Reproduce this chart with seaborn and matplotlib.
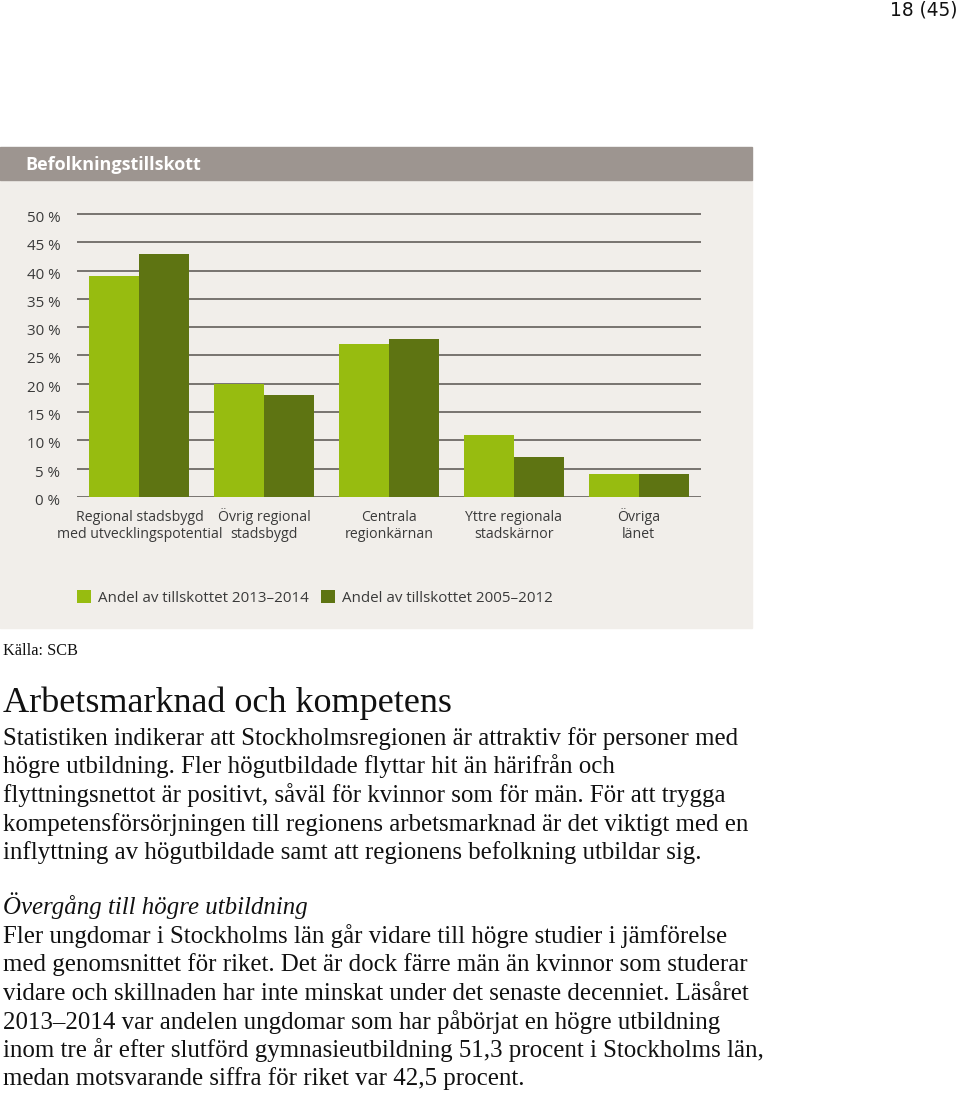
import matplotlib
matplotlib.use("Agg")
import matplotlib.pyplot as plt
import matplotlib.transforms as mtrans
import seaborn as sns
import pandas as pd
from matplotlib.patches import Rectangle, Patch

# ---------------- data ----------------
categories = ["Regional stadsbygd\nmed utvecklingspotential", "Övrig regional\nstadsbygd",
              "Centrala\nregionkärnan", "Yttre regionala\nstadskärnor", "Övriga\nlänet"]
series_names = ["Andel av tillskottet 2013–2014", "Andel av tillskottet 2005–2012"]
values_2013_2014 = [39, 20, 27, 11, 4]
values_2005_2012 = [43, 18, 28, 7, 4]
ytick_values = [0, 5, 10, 15, 20, 25, 30, 35, 40, 45, 50]
ytick_labels = [f"{v} %" for v in ytick_values]

chart_title = "Befolkningstillskott"
page_number = "18 (45)"
source = "Källa: SCB"
heading = "Arbetsmarknad och kompetens"
para1 = ["Statistiken indikerar att Stockholmsregionen är attraktiv för personer med",
         "högre utbildning. Fler högutbildade flyttar hit än härifrån och",
         "flyttningsnettot är positivt, såväl för kvinnor som för män. För att trygga",
         "kompetensförsörjningen till regionens arbetsmarknad är det viktigt med en",
         "inflyttning av högutbildade samt att regionens befolkning utbildar sig."]
subheading = "Övergång till högre utbildning"
para2 = ["Fler ungdomar i Stockholms län går vidare till högre studier i jämförelse",
         "med genomsnittet för riket. Det är dock färre män än kvinnor som studerar",
         "vidare och skillnaden har inte minskat under det senaste decenniet. Läsåret",
         "2013–2014 var andelen ungdomar som har påbörjat en högre utbildning",
         "inom tre år efter slutförd gymnasieutbildning 51,3 procent i Stockholms län,",
         "medan motsvarande siffra för riket var 42,5 procent."]

df = pd.DataFrame({
    "kategori": categories * 2,
    "serie": [series_names[0]] * len(categories) + [series_names[1]] * len(categories),
    "andel": values_2013_2014 + values_2005_2012,
})

# ---------------- style ----------------
light = "#97bc10"
dark = "#5e7412"
bg = "#f1eeea"
header = "#9d9590"
grid_c = "#6e6a66"
SANS = ["Open Sans", "DejaVu Sans"]
SERIF = ["Liberation Serif", "DejaVu Serif"]

sns.set_theme(style="white")
plt.rcParams["font.family"] = SANS

W, H = 960, 1093
fig = plt.figure(figsize=(W / 100, H / 100), dpi=100)
fig.patch.set_facecolor("white")
renderer = fig.canvas.get_renderer()


def fx(px):
    return px / W


def fy(py):
    return 1 - py / H


def measure(txt, **kw):
    t = fig.text(0, 0, txt, fontsize=10, **kw)
    w = t.get_window_extent(renderer).width
    t.remove()
    return w


def fit(txt, target_px, **kw):
    return 10 * target_px / measure(txt, **kw)


# background panel & header
fig.patches.append(Rectangle((fx(0), fy(628)), fx(752), (628 - 180) / H,
                             transform=fig.transFigure, color=bg, zorder=-5))
fig.patches.append(Rectangle((fx(0), fy(180)), fx(752), (180 - 147) / H,
                             transform=fig.transFigure, color=header, zorder=-5))
fs_head = fit(chart_title, 178, family=SANS, weight="bold")
fig.text(fx(25), fy(170), chart_title, color="white", fontsize=fs_head,
         family=SANS, weight="bold", va="baseline", ha="left")

# ---------------- chart ----------------
ymax = 50.3
px_per_unit = (497 - 214) / 50
top_px = 497 - ymax * px_per_unit
ax = fig.add_axes([fx(77), fy(497), fx(701) - fx(77), (497 - top_px) / H])
ax.set_facecolor("none")
ax.set_zorder(2)
sns.barplot(data=df, x="kategori", y="andel", hue="serie", palette=[light, dark],
            saturation=1, width=0.8, ax=ax, legend=False, zorder=3, linewidth=0)
ax.set_xlim(-0.5, len(categories) - 0.5)
ax.set_ylim(0, ymax)
ax.set_yticks(ytick_values)
ax.set_yticklabels(ytick_labels)
ax.set_axisbelow(True)
ax.yaxis.grid(True, color=grid_c, linewidth=1.3)
ax.xaxis.grid(False)
for s in ax.spines.values():
    s.set_visible(False)
ax.set_xlabel("")
ax.set_ylabel("")
fs_tick = fit("med utvecklingspotential", 165, family=SANS)
fs_ytick = fit("50 %", 34, family=SANS)
ax.tick_params(axis="y", length=0, pad=12, labelsize=fs_ytick, labelcolor="#3a3a3a")
ax.tick_params(axis="x", length=0, pad=29.5, labelsize=fs_tick, labelcolor="#3a3a3a")
for lab in ax.get_xticklabels():
    lab.set_linespacing(1.15)
    lab.set_verticalalignment("baseline")
for lab in ax.get_yticklabels():
    lab.set_transform(lab.get_transform() + mtrans.ScaledTranslation(0, -2.5 / 100, fig.dpi_scale_trans))

handles = [Patch(facecolor=light, edgecolor="none"), Patch(facecolor=dark, edgecolor="none")]
fs_leg = fit(series_names[0], 211, family=SANS)
fig.legend(handles, series_names, loc="center left", bbox_to_anchor=(fx(77), fy(598)),
           ncol=2, frameon=False, handlelength=0.9, handleheight=0.9, handletextpad=0.5,
           columnspacing=0.8, borderpad=0, borderaxespad=0, fontsize=fs_leg,
           labelcolor="#3a3a3a")

# ---------------- page text ----------------
fs_pn = fit(page_number, 68, family=["DejaVu Sans"])
fig.text(fx(958), fy(16), page_number, fontsize=fs_pn, family=["DejaVu Sans"],
         ha="right", va="baseline", color="#111111")
fs_src = fit(source, 75, family=SERIF)
fig.text(fx(3), fy(655), source, fontsize=fs_src, family=SERIF, va="baseline", color="#111111")
fs_h = fit(heading, 449, family=SERIF)
fig.text(fx(3), fy(712), heading, fontsize=fs_h, family=SERIF, va="baseline", color="#111111")

# body size: match the reference line lengths on average
line_ends = [738, 640, 717, 747, 693, 716, 745, 748, 718, 753, 520]
all_lines = para1 + para2
measured = sum(measure(l, family=SERIF) for l in all_lines)
fs_body = 10 * sum(e - 3 for e in line_ends) / measured
step = 28.5
for i, line in enumerate(para1):
    fig.text(fx(3), fy(745 + i * step), line, fontsize=fs_body, family=SERIF,
             va="baseline", color="#111111")
fig.text(fx(3), fy(914), subheading, fontsize=fs_body, family=SERIF, style="italic",
         va="baseline", color="#111111")
for i, line in enumerate(para2):
    fig.text(fx(3), fy(943 + i * step), line, fontsize=fs_body, family=SERIF,
             va="baseline", color="#111111")

fig.savefig("out.png", dpi=100)
